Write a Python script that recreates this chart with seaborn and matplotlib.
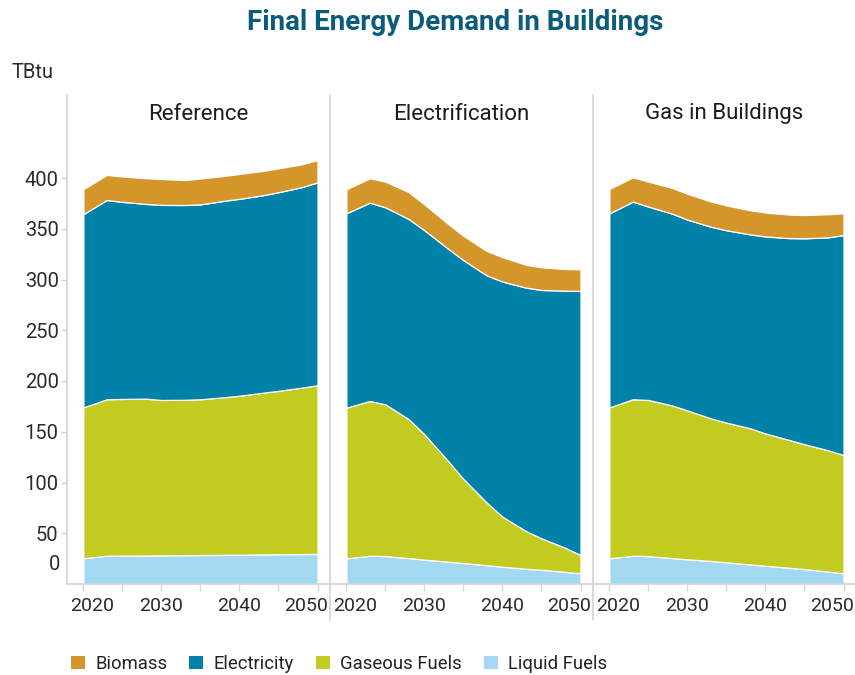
import numpy as np
import pandas as pd
import matplotlib
matplotlib.use("Agg")
import matplotlib.pyplot as plt
from matplotlib.patches import Patch
from matplotlib.lines import Line2D
from matplotlib.transforms import ScaledTranslation
import seaborn as sns

# ---------------- data (TBtu) ----------------
years = [2020, 2023, 2025, 2028, 2030, 2033, 2035, 2038, 2040, 2043, 2045, 2048, 2050]
scenarios = ["Reference", "Electrification", "Gas in Buildings"]
series = ["Liquid Fuels", "Gaseous Fuels", "Electricity", "Biomass"]
legend_order = ["Biomass", "Electricity", "Gaseous Fuels", "Liquid Fuels"]

# Reference
ref_liquid = [25.4, 27.9, 28.0, 28.1, 28.2, 28.4, 28.5, 28.7, 28.9, 29.1, 29.3, 29.5, 29.6]
ref_gas = [148.6, 154.1, 154.3, 154.5, 153.1, 153.1, 153.5, 155.3, 156.6, 159.4, 161.0, 164.0, 166.2]
ref_elec = [190.5, 196.3, 194.2, 191.9, 192.2, 191.9, 192.0, 193.5, 194.0, 194.5, 195.7, 197.5, 199.9]
ref_biomass = [24.5, 24.7, 25.0, 25.3, 25.5, 24.6, 25.5, 24.5, 24.5, 24.0, 23.5, 22.5, 22.0]

# Electrification
ele_liquid = [25.3, 27.8, 27.5, 25.5, 24.0, 22.0, 20.7, 18.5, 17.0, 15.0, 14.0, 12.0, 10.5]
ele_gas = [148.4, 152.5, 149.5, 136.8, 123.5, 99.5, 82.7, 61.6, 49.3, 37.2, 31.0, 23.8, 18.1]
ele_elec = [191.5, 195.4, 194.1, 197.2, 201.0, 209.0, 215.6, 223.9, 231.7, 239.8, 244.7, 253.2, 260.1]
ele_biomass = [23.7, 24.0, 25.3, 26.5, 25.5, 24.5, 24.0, 24.0, 24.0, 22.5, 22.3, 21.3, 21.3]

# Gas in Buildings
gas_liquid = [25.3, 27.8, 27.5, 25.5, 24.3, 22.7, 21.3, 19.3, 18.0, 16.0, 14.7, 12.3, 10.5]
gas_gas = [148.7, 154.2, 153.8, 150.5, 146.7, 140.5, 137.7, 134.2, 130.3, 126.0, 123.0, 119.5, 116.6]
gas_elec = [191.2, 194.7, 190.5, 189.0, 188.0, 188.8, 189.5, 191.0, 194.1, 198.8, 202.9, 209.7, 216.7]
gas_biomass = [24.0, 24.0, 24.6, 25.3, 25.5, 24.8, 24.5, 23.7, 23.6, 23.2, 22.9, 22.8, 21.4]

y_ticks = [50, 100, 150, 200, 250, 300, 350, 400]
x_ticks = [2020, 2025, 2030, 2035, 2040, 2045, 2050]
x_labels = ["2020", "", "2030", "", "2040", "", "2050"]

data = {
    "Reference": [ref_liquid, ref_gas, ref_elec, ref_biomass],
    "Electrification": [ele_liquid, ele_gas, ele_elec, ele_biomass],
    "Gas in Buildings": [gas_liquid, gas_gas, gas_elec, gas_biomass],
}
rows = []
for sc in scenarios:
    for name, vals in zip(series, data[sc]):
        for yr, v in zip(years, vals):
            rows.append({"scenario": sc, "series": name, "year": yr, "value": v})
df = pd.DataFrame(rows)

colors = {"Biomass": "#D4962B", "Electricity": "#0082A8",
          "Gaseous Fuels": "#C3CB20", "Liquid Fuels": "#A2D8F1"}

# ---------------- style ----------------
sns.set_theme(style="white")
plt.rcParams["font.family"] = ["Roboto", "DejaVu Sans"]
GRID = "#d4d4d4"
TXT = "#2b2b2b"

W, H = 855, 675
fig = plt.figure(figsize=(W / 100, H / 100), dpi=100)

def fx(px):
    return px / W

def fy(py):
    return 1 - py / H

top_px, base_px = 95, 584
panel_edges = [67, 330, 593, 856]
ymax = (base_px - top_px) / 1.015

axes = []
for i, sc in enumerate(scenarios):
    l, r = panel_edges[i], panel_edges[i + 1]
    ax = fig.add_axes([fx(l), fy(base_px), fx(r - l), (base_px - top_px) / H])
    axes.append(ax)
    sub = df[df["scenario"] == sc].pivot(index="year", columns="series", values="value")
    sub = sub[series]
    ax.stackplot(sub.index.values, *[sub[s].values for s in series],
                 colors=[colors[s] for s in series],
                 edgecolor="white", linewidth=0.9)
    ax.set_xlim(2017.9, 2051.6)
    ax.set_ylim(0, ymax)
    for sp in ["top", "right"]:
        ax.spines[sp].set_visible(False)
    ax.spines["bottom"].set_color(GRID)
    ax.spines["bottom"].set_linewidth(1.2)
    if i == 0:
        ax.spines["left"].set_color(GRID)
        ax.spines["left"].set_linewidth(1.2)
        ax.set_yticks(y_ticks)
        ax.set_yticklabels([str(v) for v in y_ticks])
        ax.tick_params(axis="y", length=4, width=1, color=GRID, pad=2,
                       labelsize=14.5, labelcolor=TXT, left=True)
        ax.text(-7 / 263, (base_px - 564) / (base_px - top_px), "0",
                transform=ax.transAxes, ha="right", va="center",
                fontsize=14.5, color=TXT)
    else:
        ax.spines["left"].set_visible(False)
        ax.set_yticks([])
    ax.set_xticks(x_ticks)
    ax.set_xticklabels(x_labels)
    ax.tick_params(axis="x", length=5, width=1, color=GRID, pad=4.5,
                   labelsize=14, labelcolor=TXT, bottom=True)
    labs = ax.get_xticklabels()
    labs[0].set_transform(labs[0].get_transform() +
                          ScaledTranslation(0.09, 0, fig.dpi_scale_trans))
    labs[-1].set_transform(labs[-1].get_transform() +
                           ScaledTranslation(-0.11, 0, fig.dpi_scale_trans))
    ax.set_xlabel("")
    ax.set_ylabel("")
    ax.text(0.5, (base_px - 114) / (base_px - top_px), sc, transform=ax.transAxes,
            ha="center", va="center", fontsize=16, color="#1c1c1c", fontweight="normal")

# separators between panels
for xp in [330, 593]:
    fig.add_artist(Line2D([fx(xp), fx(xp)], [fy(620), fy(top_px)],
                          color=GRID, linewidth=1.2))

# title and unit label
fig.text(fx(455), fy(22), "Final Energy Demand in Buildings", ha="center", va="center",
         fontsize=20, fontweight="bold", color="#0B5B7A")
fig.text(fx(12), fy(73), "TBtu", ha="left", va="center", fontsize=14.5, color=TXT)

# legend
handles = [Patch(facecolor=colors[s], edgecolor="none") for s in legend_order]
fig.legend(handles, legend_order, loc="center left",
           bbox_to_anchor=(fx(71), fy(664)), ncol=4, frameon=False,
           fontsize=13.3, handlelength=0.75, handleheight=0.75,
           handletextpad=0.55, columnspacing=1.2, borderpad=0, borderaxespad=0,
           labelcolor="#222222")

fig.savefig("out.png", dpi=100)
